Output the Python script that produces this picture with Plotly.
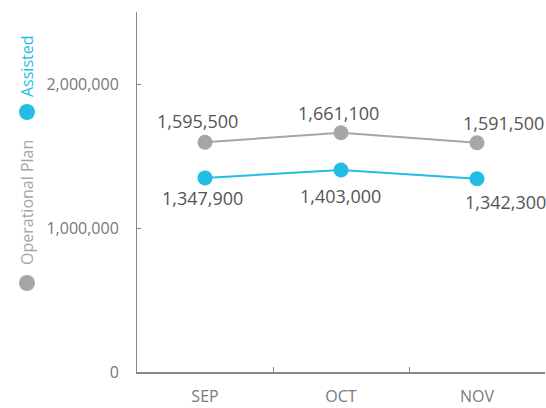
import plotly.graph_objects as go

months = ["SEP", "OCT", "NOV"]
operational_plan = [1595500, 1661100, 1591500]
assisted = [1347900, 1403000, 1342300]
y_tick_vals = [0, 1000000, 2000000]
y_tick_text = ["0", "1,000,000", "2,000,000"]

GRAY = "#A6A6A6"
CYAN = "#22BDE2"
FONT = "Open Sans"

fig = go.Figure()
fig.add_trace(go.Scatter(x=months, y=operational_plan, mode="lines+markers",
                         line=dict(color=GRAY, width=2),
                         marker=dict(color=GRAY, size=15), name="Operational Plan",
                         cliponaxis=False))
fig.add_trace(go.Scatter(x=months, y=assisted, mode="lines+markers",
                         line=dict(color=CYAN, width=2),
                         marker=dict(color=CYAN, size=15), name="Assisted",
                         cliponaxis=False))

# data labels
op_shift = [(-8, 21), (-3, 20), (26, 20)]
as_shift = [(-3, -20), (-1, -26), (28, -23)]
for m, v, (dx, dy) in zip(months, operational_plan, op_shift):
    fig.add_annotation(x=m, y=v, text=f"{v:,}", showarrow=False, xshift=dx, yshift=dy,
                       font=dict(family=FONT, size=18, color="#555555"))
for m, v, (dx, dy) in zip(months, assisted, as_shift):
    fig.add_annotation(x=m, y=v, text=f"{v:,}", showarrow=False, xshift=dx, yshift=dy,
                       font=dict(family=FONT, size=18, color="#555555"))

# custom vertical legend
lx = (27 - 137) / 408
fig.add_shape(type="circle", xref="paper", yref="paper", xsizemode="pixel", ysizemode="pixel",
              xanchor=lx, yanchor=(372 - 112) / 360, x0=-8, x1=8, y0=-8, y1=8,
              fillcolor=CYAN, line=dict(width=0))
fig.add_shape(type="circle", xref="paper", yref="paper", xsizemode="pixel", ysizemode="pixel",
              xanchor=lx, yanchor=(372 - 283) / 360, x0=-8, x1=8, y0=-8, y1=8,
              fillcolor=GRAY, line=dict(width=0))
fig.add_annotation(xref="paper", yref="paper", x=lx, y=(372 - 66) / 360, text="Assisted",
                   textangle=-90, showarrow=False, xanchor="center", yanchor="middle",
                   font=dict(family=FONT, size=16, color=CYAN))
fig.add_annotation(xref="paper", yref="paper", x=lx, y=(372 - 203) / 360, text="Operational Plan",
                   textangle=-90, showarrow=False, xanchor="center", yanchor="middle",
                   font=dict(family=FONT, size=16, color=GRAY))

fig.update_layout(
    width=546, height=408,
    margin=dict(l=137, r=1, t=12, b=36),
    paper_bgcolor="white", plot_bgcolor="white",
    showlegend=False,
    font=dict(family=FONT, color="#777777"),
    xaxis=dict(type="category", tickson="boundaries", ticks="inside", ticklen=5,
               tickcolor="#888888", showline=True, linecolor="#888888", linewidth=2,
               showgrid=False, zeroline=False, tickfont=dict(size=16, color="#7a7a7a"),
               ticklabelstandoff=9, range=[-0.5, 2.5]),
    yaxis=dict(range=[0, 2500000], tickvals=y_tick_vals, ticktext=y_tick_text,
               ticks="inside", ticklen=4, tickcolor="#888888",
               showline=True, linecolor="#888888", linewidth=1,
               showgrid=False, zeroline=False, tickfont=dict(size=16, color="#777777"),
               ticklabelstandoff=14),
)

fig.write_html("out.html", config={"displayModeBar": False},
               post_script="document.body.style.margin='0';document.body.style.overflow='hidden';")
